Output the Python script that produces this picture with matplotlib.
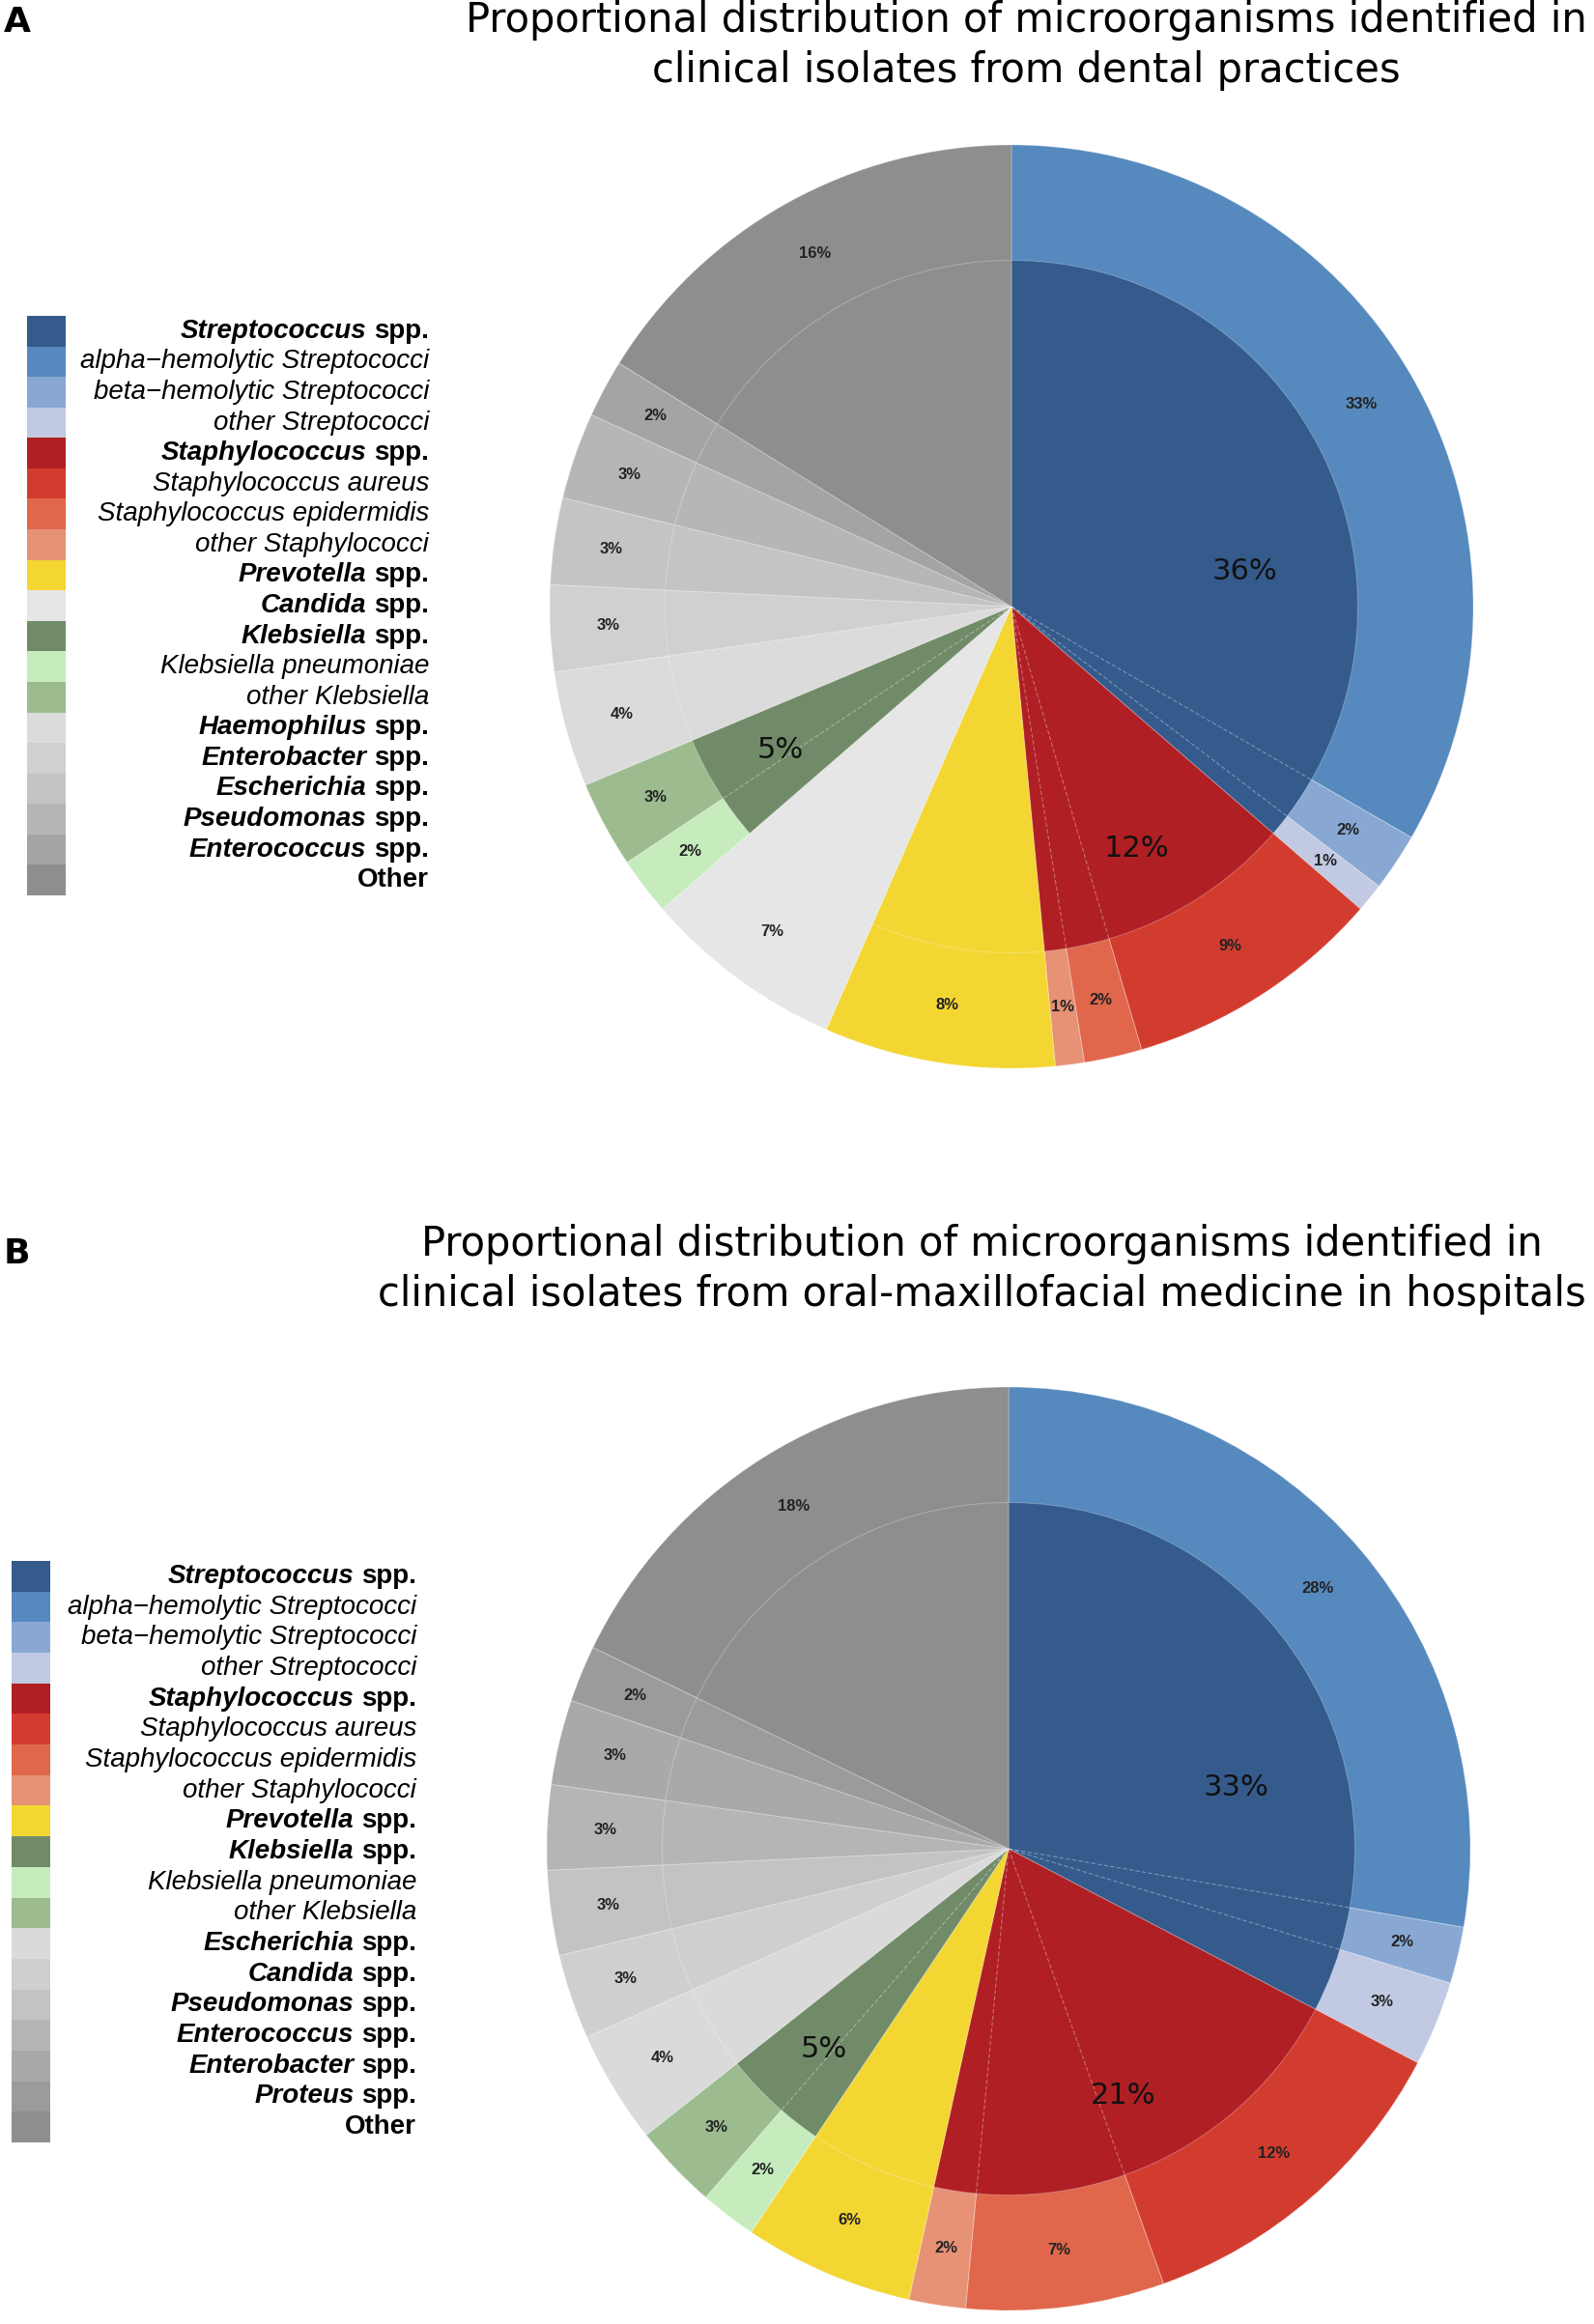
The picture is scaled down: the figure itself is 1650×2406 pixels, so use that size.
import numpy as np
import matplotlib
matplotlib.use("Agg")
import matplotlib.pyplot as plt
from matplotlib.patches import Rectangle

# ---------------- Panel A: dental practices ----------------
a_genus = ["Streptococcus", "Staphylococcus", "Prevotella", "Candida", "Klebsiella",
           "Haemophilus", "Enterobacter", "Escherichia", "Pseudomonas", "Enterococcus", "Other"]
a_genus_pct = [36, 12, 8, 7, 5, 4, 3, 3, 3, 2, 16]
a_genus_colors = ["#345b8c", "#b01f24", "#f3d632", "#e6e6e6", "#718b69",
                  "#dbdbdb", "#d0d0d0", "#c4c4c4", "#b6b6b6", "#a4a4a4", "#8e8e8e"]
a_species = ["alpha\u2212hemolytic Streptococci", "beta\u2212hemolytic Streptococci", "other Streptococci",
             "Staphylococcus aureus", "Staphylococcus epidermidis", "other Staphylococci",
             "Prevotella", "Candida", "Klebsiella pneumoniae", "other Klebsiella",
             "Haemophilus", "Enterobacter", "Escherichia", "Pseudomonas", "Enterococcus", "Other"]
a_species_parent = [0, 0, 0, 1, 1, 1, 2, 3, 4, 4, 5, 6, 7, 8, 9, 10]
a_species_pct = [33, 2, 1, 9, 2, 1, 8, 7, 2, 3, 4, 3, 3, 3, 2, 16]
a_species_colors = ["#5689bd", "#88a8d3", "#c1cae2", "#d23c2f", "#e0674b", "#e79175",
                    "#f3d632", "#e6e6e6", "#c6ecbd", "#9cbc8f",
                    "#dbdbdb", "#d0d0d0", "#c4c4c4", "#b6b6b6", "#a4a4a4", "#8e8e8e"]
a_title = ["Proportional distribution of microorganisms identified in",
           "clinical isolates from dental practices"]

# ---------------- Panel B: oral-maxillofacial medicine ----------------
b_genus = ["Streptococcus", "Staphylococcus", "Prevotella", "Klebsiella", "Escherichia",
           "Candida", "Pseudomonas", "Enterococcus", "Enterobacter", "Proteus", "Other"]
b_genus_pct = [33, 21, 6, 5, 4, 3, 3, 3, 3, 2, 18]
b_genus_colors = ["#345b8c", "#b01f24", "#f3d632", "#718b69", "#dadada",
                  "#cfcfcf", "#c3c3c3", "#b5b5b5", "#a9a9a9", "#9b9b9b", "#8e8e8e"]
b_species = ["alpha\u2212hemolytic Streptococci", "beta\u2212hemolytic Streptococci", "other Streptococci",
             "Staphylococcus aureus", "Staphylococcus epidermidis", "other Staphylococci",
             "Prevotella", "Klebsiella pneumoniae", "other Klebsiella",
             "Escherichia", "Candida", "Pseudomonas", "Enterococcus", "Enterobacter", "Proteus", "Other"]
b_species_parent = [0, 0, 0, 1, 1, 1, 2, 3, 3, 4, 5, 6, 7, 8, 9, 10]
b_species_pct = [28, 2, 3, 12, 7, 2, 6, 2, 3, 4, 3, 3, 3, 3, 2, 18]
b_species_colors = ["#5689bd", "#88a8d3", "#c1cae2", "#d23c2f", "#e0674b", "#e79175",
                    "#f3d632", "#c6ecbd", "#9cbc8f",
                    "#dadada", "#cfcfcf", "#c3c3c3", "#b5b5b5", "#a9a9a9", "#9b9b9b", "#8e8e8e"]
b_title = ["Proportional distribution of microorganisms identified in",
           "clinical isolates from oral-maxillofacial medicine in hospitals"]

W, H = 1650, 2406
fig = plt.figure(figsize=(W / 100, H / 100), dpi=100)
fig.patch.set_facecolor("white")

# overlay axes in pixel coordinates for titles and legends
ov = fig.add_axes([0, 0, 1, 1])
ov.set_xlim(0, W)
ov.set_ylim(H, 0)
ov.axis("off")
renderer = fig.canvas.get_renderer()

LEG_FONT = "Liberation Sans"
LEG_SIZE = 20


def legend_entry(x_right, y, label):
    if label == "Other":
        ov.text(x_right, y, label, ha="right", va="center", fontsize=LEG_SIZE,
                family=LEG_FONT, fontweight="bold")
    elif label.endswith(" spp."):
        name = label[:-5]
        t = ov.text(x_right, y, "spp.", ha="right", va="center", fontsize=LEG_SIZE,
                    family=LEG_FONT, fontweight="bold")
        wpx = t.get_window_extent(renderer=renderer).width
        gap = LEG_SIZE * 100 / 72 * 0.28
        ov.text(x_right - wpx - gap, y, name, ha="right", va="center", fontsize=LEG_SIZE,
                family=LEG_FONT, fontweight="bold", fontstyle="italic")
    else:
        ov.text(x_right, y, label, ha="right", va="center", fontsize=LEG_SIZE,
                family=LEG_FONT, fontstyle="italic")


def draw_legend(genus, genus_colors, species, parent, species_colors, x0, y0, y1, x_right):
    labels, colors = [], []
    for gi, g in enumerate(genus):
        labels.append(g if g == "Other" else g + " spp.")
        colors.append(genus_colors[gi])
        kids = [k for k, p in enumerate(parent) if p == gi]
        if len(kids) > 1:
            for k in kids:
                labels.append(species[k])
                colors.append(species_colors[k])
    row = (y1 - y0) / len(labels)
    for i, (lab, col) in enumerate(zip(labels, colors)):
        ov.add_patch(Rectangle((x0, y0 + i * row), 40, row, facecolor=col, edgecolor="none"))
        legend_entry(x_right, y0 + (i + 0.5) * row, lab)


def draw_pie(cx, cy, R, genus_pct, genus_colors, sp_pct, sp_colors, parent):
    ax = fig.add_axes([(cx - R) / W, (H - cy - R) / H, 2 * R / W, 2 * R / H])
    edge = dict(edgecolor=(1, 1, 1, 0.25), linewidth=0.8)
    w_out, _ = ax.pie(sp_pct, radius=1.0, colors=sp_colors, startangle=90,
                      counterclock=False, wedgeprops=edge)
    w_in, _ = ax.pie(genus_pct, radius=0.75, colors=genus_colors, startangle=90,
                     counterclock=False, wedgeprops=edge)
    ax.set_xlim(-1, 1)
    ax.set_ylim(-1, 1)
    ax.axis("off")

    # faint sub-division lines across the inner ring
    for j in range(len(sp_pct) - 1):
        if parent[j] == parent[j + 1]:
            th = np.deg2rad(w_out[j].theta1)
            ax.plot([0, 0.75 * np.cos(th)], [0, 0.75 * np.sin(th)],
                    color="white", alpha=0.35, lw=0.8, ls=(0, (4, 2)))

    for w, v in zip(w_out, sp_pct):
        mid = np.deg2rad((w.theta1 + w.theta2) / 2)
        ax.text(0.875 * np.cos(mid), 0.875 * np.sin(mid), f"{v}%", ha="center", va="center",
                fontsize=12, family="Liberation Sans", fontweight="bold", color="#222222")

    for gi, (w, v) in enumerate(zip(w_in, genus_pct)):
        if parent.count(gi) > 1:
            shift = -16 if v == max(genus_pct) else 0
            mid = np.deg2rad((w.theta1 + w.theta2) / 2 + shift)
            r = 0.51 if shift else 0.59
            ax.text(r * np.cos(mid), r * np.sin(mid), f"{v}%", ha="center", va="center",
                    fontsize=22, family="DejaVu Sans", color="#111111")


# titles and panel letters
for (x, y0, lines) in [(1062, 33, a_title), (1016, 1300, b_title)]:
    for k, line in enumerate(lines):
        ov.text(x, y0 + k * 52, line, ha="center", va="baseline", fontsize=30,
                family="DejaVu Sans", color="black")
ov.text(4, 33, "A", ha="left", va="baseline", fontsize=26, fontweight="bold", family="DejaVu Sans")
ov.text(4, 1308, "B", ha="left", va="baseline", fontsize=26, fontweight="bold", family="DejaVu Sans")

draw_legend(a_genus, a_genus_colors, a_species, a_species_parent, a_species_colors,
            28, 327, 927, 444)
draw_legend(b_genus, b_genus_colors, b_species, b_species_parent, b_species_colors,
            12, 1616, 2218, 431)

draw_pie(1047, 628, 478, a_genus_pct, a_genus_colors, a_species_pct, a_species_colors,
         a_species_parent)
draw_pie(1044, 1914, 478, b_genus_pct, b_genus_colors, b_species_pct, b_species_colors,
         b_species_parent)

fig.savefig("out.png", dpi=100)
